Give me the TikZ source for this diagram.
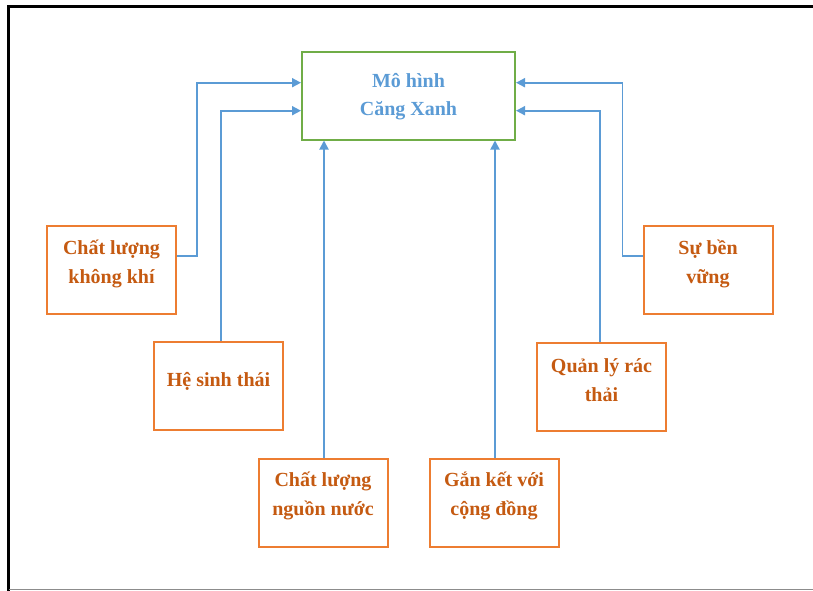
\documentclass[tikz,border=0pt]{standalone}
\usepackage{fontspec}
\setmainfont{Liberation Serif}
\usetikzlibrary{arrows.meta}
\definecolor{boxorange}{HTML}{ED7D31}
\definecolor{txtorange}{HTML}{C55A11}
\definecolor{linkblue}{HTML}{5B9BD5}
\definecolor{maingreen}{HTML}{70AD47}
\begin{document}
\begin{tikzpicture}[x=1pt,y=-1pt,
  factor/.style={draw=boxorange,line width=2pt,fill=white,inner sep=0pt,
    minimum width=129pt,minimum height=88pt},
  hub/.style={draw=maingreen,line width=2pt,inner sep=0pt,
    minimum width=213pt,minimum height=87pt},
  ftext/.style={text=txtorange,align=center,inner sep=0pt,
    font=\fontsize{20}{29.5}\selectfont\bfseries},
  htext/.style={text=linkblue,align=center,inner sep=0pt,
    font=\fontsize{20}{28}\selectfont\bfseries},
  arr/.style={draw=linkblue,line width=1.8pt,
    -{Triangle[length=9pt,width=9pt]}}]
\useasboundingbox (0,0) rectangle (813,591);
% outer frame
\draw[black,line width=2.6pt] (8.7,591) -- (8.7,6.3) -- (813,6.3);
\draw[gray!90,line width=1pt] (8.7,589.5) -- (813,589.5);

% central box
\node[hub] (main) at (408.5,96) {};
\node[htext] (maint) at (408.5,97) {Mô hình\\Căng Xanh};

% factor boxes
\node[factor] (air) at (111.5,270) {};
\node[ftext] (airt) at (111.5,264) {Chất lượng\\không khí};
\node[factor] (eco) at (218.5,386) {};
\node[ftext] (ecot) at (218.5,381) {Hệ sinh thái};
\node[factor] (water) at (323,502.5) {};
\node[ftext] (watert) at (323,496) {Chất lượng\\nguồn nước};
\node[factor] (comm) at (494,502.5) {};
\node[ftext] (commt) at (494,496) {Gắn kết với\\cộng đồng};
\node[factor] (waste) at (601.5,386.5) {};
\node[ftext] (wastet) at (601.5,380) {Quản lý rác\\thải};
\node[factor] (sus) at (708,270) {};
\node[ftext] (sust) at (708,264) {Sự bền\\vững};

% links into the central box
\draw[arr] ([yshift=14]air.east) -- ++(20,0) |- ([yshift=13.3]main.west);
\draw[arr] ([xshift=2.5]eco.north) |- ([yshift=-14.7]main.west);
\draw[arr] ([xshift=1]water.north) -- ([xshift=1]water.north |- main.south);
\draw[arr] ([xshift=1]comm.north) -- ([xshift=1]comm.north |- main.south);
\draw[arr] ([xshift=-1.5]waste.north) |- ([yshift=-14.7]main.east);
\draw[arr] ([yshift=14]sus.west) -- ++(-20,0) |- ([yshift=13.3]main.east);
\end{tikzpicture}
\end{document}
